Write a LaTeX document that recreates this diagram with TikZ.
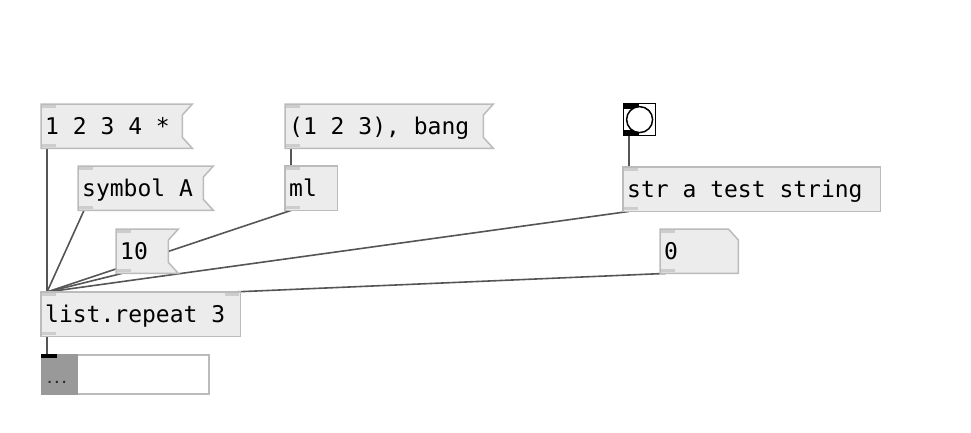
\documentclass[tikz,border=0pt]{standalone}
\usepackage{fontspec}
\newfontfamily\pdmono{DejaVu Sans Mono}
\usetikzlibrary{positioning}
\definecolor{boxfill}{HTML}{ECECEC}
\definecolor{boxline}{HTML}{BBBBBB}
\definecolor{wirecol}{HTML}{555555}
\definecolor{ioletcol}{HTML}{CDCDCD}
\definecolor{listgray}{HTML}{999999}
\pgfdeclarelayer{wires}
\pgfdeclarelayer{boxes}
\pgfsetlayers{wires,boxes,main}
\newcommand{\pdfont}{\pdmono\fontsize{23}{26}\selectfont}
\tikzset{pd/.style={anchor=north west,inner xsep=4pt,inner ysep=0pt,minimum height=44pt,
  text height=19pt,text depth=3pt,align=left,font=\pdfont,
  execute at begin node={\spaceskip=13.85pt plus 0pt minus 0pt\relax}}}
\tikzset{wire/.style={color=wirecol,line width=1.6pt}}
\tikzset{pdbox/.style={draw=boxline,fill=boxfill,line width=1.5pt}}
\tikzset{iolet/.style={fill=ioletcol}}
\newcommand{\msgflag}[1]{\path[pdbox] (#1.north west) -- ([xshift=10pt]#1.north east)
  -- ([yshift=-11pt]#1.north east) -- ([yshift=11pt]#1.south east)
  -- ([xshift=10pt]#1.south east) -- (#1.south west) -- cycle;}
\newcommand{\iolets}[1]{\path[iolet] ([shift={(1pt,-1pt)}]#1.north west) rectangle ++(14pt,-3pt);
  \path[iolet] ([shift={(1pt,1pt)}]#1.south west) rectangle ++(14pt,3pt);}

\begin{document}
\begin{tikzpicture}[x=1pt,y=-1pt]
\useasboundingbox (0,0) rectangle (971,432);
% messages and objects
\node[pd,text width=133pt] (msgnums) at (41,104) {1 2 3 4 *};
\node[pd,text width=117pt] (msgsym) at (78,166) {symbol A};
\node[pd,text width=190pt] (msgbang) at (285,104) {(1 2 3), bang};
\node[pd,text width=44pt] (ml) at (285,166) {ml};
\node[pd,text width=44pt] (msgten) at (116,229) {10};
\node[pd,text width=191pt] (repeat) at (41,292) {list.repeat 3};
\node[pd,text width=249pt] (str) at (623,167) {str a test string};
\node[pd,text width=70pt] (num) at (660,229) {0};
%
\node[draw=black,fill=white,line width=1.2pt,minimum size=32pt,inner sep=0pt,anchor=north west] (bng) at (623,103) {};
\fill (bng.north west) rectangle ++(16pt,-6pt);
\fill (bng.south west) rectangle ++(16pt,6pt);
\draw[line width=1.5pt,fill=white] (bng.center) circle (13pt);
%
\node[draw=boxline,fill=white,line width=1.5pt,minimum width=167pt,minimum height=39pt,inner sep=0pt,anchor=north west] (listout) at (41,354) {};
\fill[listgray] (listout.north west) rectangle ([xshift=37pt]listout.south west);
\fill (listout.north west) rectangle ++(16pt,-4pt);
\node[font=\pdmono\bfseries\fontsize{12}{14}\selectfont,text=black!85,anchor=base,inner sep=0pt] (dots) at (57,383) {...};

\begin{pgfonlayer}{boxes}
\msgflag{msgnums}
\msgflag{msgsym}
\msgflag{msgbang}
\msgflag{msgten}
\path[pdbox] (ml.south west) rectangle (ml.north east);
\path[pdbox] (repeat.south west) rectangle (repeat.north east);
\path[pdbox] (str.south west) rectangle (str.north east);
\path[pdbox] (num.south west) -- (num.north west) -- ([xshift=-10pt]num.north east)
  -- ([yshift=-11pt]num.north east) -- (num.south east) -- cycle;
\end{pgfonlayer}

\foreach \n in {msgnums,msgsym,msgbang,ml,msgten,repeat,str,num}{\iolets{\n}}
\path[iolet] ([shift={(-1pt,-1pt)}]repeat.north east) rectangle ++(-14pt,-3pt);

\begin{pgfonlayer}{wires}
\path[wire] ([xshift=6pt]msgnums.south west) edge ([xshift=6pt]repeat.north west);
\path[wire] ([xshift=6pt]msgsym.south west) edge ([xshift=6pt]repeat.north west);
\path[wire] ([xshift=6pt]ml.south west) edge ([xshift=6pt]repeat.north west);
\path[wire] ([xshift=6pt]msgten.south west) edge ([xshift=6pt]repeat.north west);
\path[wire] ([xshift=6pt]str.south west) edge ([xshift=6pt]repeat.north west);
\path[wire] ([xshift=6pt]num.south west) edge ([xshift=-8pt]repeat.north east);
\path[wire] ([xshift=6pt]msgbang.south west) edge ([xshift=6pt]ml.north west);
\path[wire] ([xshift=6pt]bng.south west) edge ([xshift=6pt]str.north west);
\path[wire] ([xshift=6pt]repeat.south west) edge ([xshift=6pt]listout.north west);
\end{pgfonlayer}
\end{tikzpicture}
\end{document}
